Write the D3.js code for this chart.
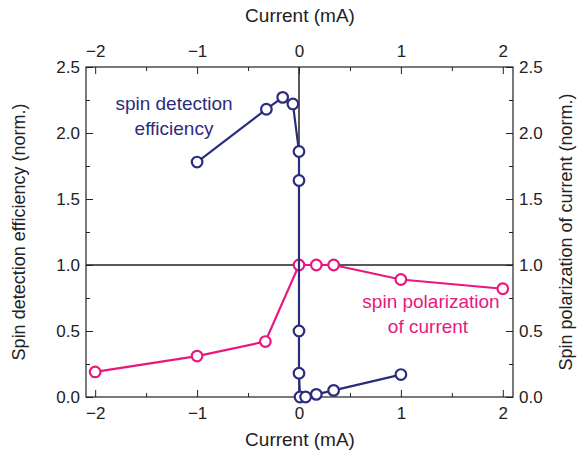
<!DOCTYPE html>
<html>
<head>
<meta charset="utf-8">
<script src="https://cdn.jsdelivr.net/npm/d3@7"></script>
<style>
  body { margin: 0; background: #fff; }
  text { font-family: "Liberation Sans", Arial, sans-serif; }
</style>
</head>
<body>
<script>
// data
var effCurrent = [-1, -0.32, -0.16, -0.06, 0, 0, 0, 0, 0.01, 0.065, 0.17, 0.34, 1];
var effValue   = [1.78, 2.18, 2.27, 2.22, 1.86, 1.64, 0.5, 0.18, 0.0, 0.0, 0.02, 0.05, 0.17];

var polCurrent = [-2, -1, -0.33, 0, 0.17, 0.34, 1, 2];
var polValue   = [0.19, 0.31, 0.42, 1.0, 1.0, 1.0, 0.89, 0.82];

var xTicks = [-2, -1, 0, 1, 2];
var yTicks = [0, 0.5, 1, 1.5, 2, 2.5];

var blue = "#2b2c7c";
var pink = "#e9177f";

var svgWidth = 579, svgHeight = 451;
var margin = {top: 67, right: 66, bottom: 54, left: 86};
var width = svgWidth - margin.left - margin.right;
var height = svgHeight - margin.top - margin.bottom;

var svg = d3.select("body").append("svg")
  .attr("width", svgWidth)
  .attr("height", svgHeight);

var chartGroup = svg.append("g")
  .attr("transform", `translate(${margin.left}, ${margin.top})`);

var x = d3.scaleLinear().domain([-2.09, 2.1]).range([0, width]);
var y = d3.scaleLinear().domain([0, 2.5]).range([height, 0]);

function styleAxis(g) {
  g.select(".domain").remove();
  g.selectAll("line").attr("stroke", "#222");
  g.selectAll("text").attr("font-size", "17px").attr("fill", "#222");
}

// minor ticks
var xMinor = d3.range(-2, 2.01, 0.5).filter(v => xTicks.indexOf(v) < 0);
var yMinor = d3.range(0.25, 2.5, 0.5);

chartGroup.append("g")
  .attr("transform", `translate(0, ${height})`)
  .call(d3.axisBottom(x).tickValues(xTicks).tickSize(-7).tickPadding(10).tickFormat(d3.format("d")))
  .call(styleAxis);
chartGroup.append("g")
  .attr("transform", `translate(0, ${height})`)
  .call(d3.axisBottom(x).tickValues(xMinor).tickSize(-4).tickFormat(""))
  .call(styleAxis);

chartGroup.append("g")
  .call(d3.axisTop(x).tickValues(xTicks).tickSize(-7).tickPadding(10).tickFormat(d3.format("d")))
  .call(styleAxis);
chartGroup.append("g")
  .call(d3.axisTop(x).tickValues(xMinor).tickSize(-4).tickFormat(""))
  .call(styleAxis);

chartGroup.append("g")
  .call(d3.axisLeft(y).tickValues(yTicks).tickSize(-7).tickPadding(6).tickFormat(d3.format(".1f")))
  .call(styleAxis);
chartGroup.append("g")
  .call(d3.axisLeft(y).tickValues(yMinor).tickSize(-4).tickFormat(""))
  .call(styleAxis);

chartGroup.append("g")
  .attr("transform", `translate(${width}, 0)`)
  .call(d3.axisRight(y).tickValues(yTicks).tickSize(-7).tickPadding(6).tickFormat(d3.format(".1f")))
  .call(styleAxis);
chartGroup.append("g")
  .attr("transform", `translate(${width}, 0)`)
  .call(d3.axisRight(y).tickValues(yMinor).tickSize(-4).tickFormat(""))
  .call(styleAxis);

// frame
chartGroup.append("rect")
  .attr("width", width).attr("height", height)
  .attr("fill", "none").attr("stroke", "#222").attr("stroke-width", 1.2);

// reference lines
chartGroup.append("line")
  .attr("x1", x(0)).attr("x2", x(0)).attr("y1", 0).attr("y2", height)
  .attr("stroke", "#222").attr("stroke-width", 1.5);
chartGroup.append("line")
  .attr("x1", 0).attr("x2", width).attr("y1", y(1)).attr("y2", y(1))
  .attr("stroke", "#222").attr("stroke-width", 1.5);

function drawSeries(xs, ys, color) {
  var pts = xs.map((v, i) => [v, ys[i]]);
  var line = d3.line().x(d => x(d[0])).y(d => y(d[1]));
  chartGroup.append("path")
    .datum(pts)
    .attr("d", line)
    .attr("fill", "none")
    .attr("stroke", color)
    .attr("stroke-width", 2.2);
  chartGroup.selectAll(null)
    .data(pts)
    .enter()
    .append("circle")
    .attr("cx", d => x(d[0]))
    .attr("cy", d => y(d[1]))
    .attr("r", 5.3)
    .attr("fill", "#fff")
    .attr("stroke", color)
    .attr("stroke-width", 2.2);
}

drawSeries(polCurrent, polValue, pink);
drawSeries(effCurrent, effValue, blue);

// annotations
var effLabel = svg.append("text")
  .attr("fill", blue).attr("font-size", "19px").attr("text-anchor", "middle");
effLabel.append("tspan").attr("x", 174).attr("y", 110).text("spin detection");
effLabel.append("tspan").attr("x", 174).attr("y", 135).text("efficiency");

var polLabel = svg.append("text")
  .attr("fill", pink).attr("font-size", "19px").attr("text-anchor", "middle");
polLabel.append("tspan").attr("x", 431).attr("y", 308).text("spin polarization");
polLabel.append("tspan").attr("x", 428).attr("y", 333).text("of current");

// axis labels
svg.append("text")
  .attr("x", 300).attr("y", 22)
  .attr("text-anchor", "middle").attr("font-size", "19px").attr("fill", "#222")
  .text("Current (mA)");
svg.append("text")
  .attr("x", 300).attr("y", 446)
  .attr("text-anchor", "middle").attr("font-size", "19px").attr("fill", "#222")
  .text("Current (mA)");
svg.append("text")
  .attr("transform", `translate(25, ${margin.top + height / 2}) rotate(-90)`)
  .attr("text-anchor", "middle").attr("font-size", "18px").attr("fill", "#222")
  .text("Spin detection efficiency (norm.)");
svg.append("text")
  .attr("transform", `translate(572, ${margin.top + height / 2}) rotate(-90)`)
  .attr("text-anchor", "middle").attr("font-size", "18px").attr("fill", "#222")
  .text("Spin polarization of current (norm.)");
</script>
</body>
</html>
